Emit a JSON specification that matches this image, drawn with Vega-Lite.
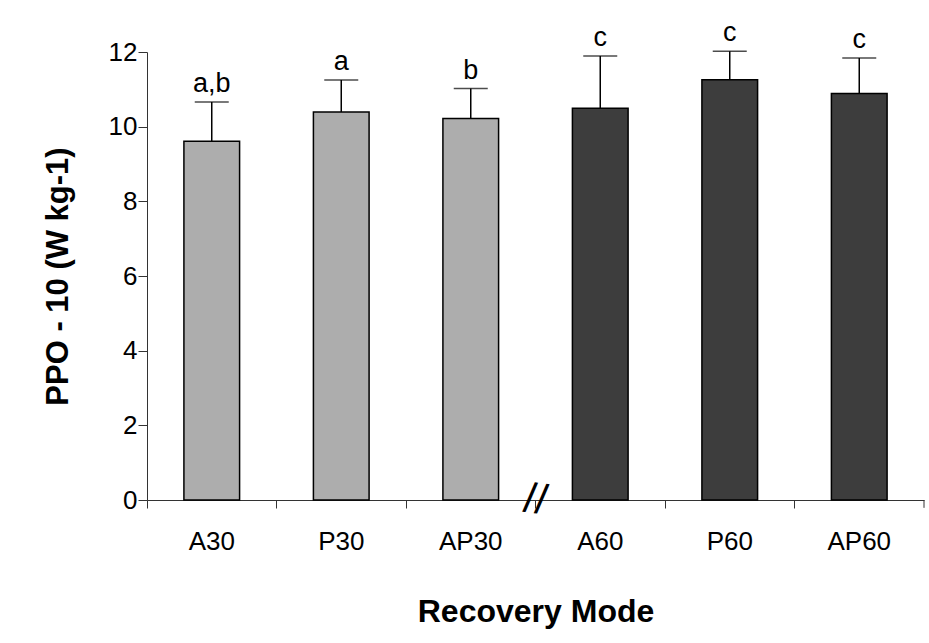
{
  "$schema": "https://vega.github.io/schema/vega-lite/v6.json",
  "autosize": "none",
  "width": 777,
  "height": 448,
  "padding": {"left": 147, "top": 52, "right": 5, "bottom": 143},
  "background": "white",
  "config": {
    "view": {"stroke": null},
    "font": "Liberation Sans",
    "axis": {"labelFont": "Liberation Sans", "titleFont": "Liberation Sans", "labelColor": "#000", "titleColor": "#000", "domainColor": "#333", "tickColor": "#333", "grid": false}
  },
  "datasets": {
    "bars": [
      {"mode": "A30", "duration": "30", "mean": 9.61, "upper": 10.66, "sig": "a,b"},
      {"mode": "P30", "duration": "30", "mean": 10.39, "upper": 11.25, "sig": "a"},
      {"mode": "AP30", "duration": "30", "mean": 10.22, "upper": 11.02, "sig": "b"},
      {"mode": "A60", "duration": "60", "mean": 10.49, "upper": 11.89, "sig": "c"},
      {"mode": "P60", "duration": "60", "mean": 11.26, "upper": 12.02, "sig": "c"},
      {"mode": "AP60", "duration": "60", "mean": 10.89, "upper": 11.84, "sig": "c"}
    ]
  },
  "data": {"name": "bars"},
  "layer": [
    {
      "mark": {"type": "bar", "width": {"band": 0.43}, "stroke": "#000", "strokeWidth": 1.5},
      "encoding": {
        "x": {
          "field": "mode", "type": "nominal",
          "scale": {"domain": ["A30", "P30", "AP30", "A60", "P60", "AP60"], "paddingInner": 0, "paddingOuter": 0},
          "axis": {"title": "Recovery Mode", "labelAngle": 0, "labelFontSize": 26, "titleFontSize": 32, "titleFontWeight": "bold", "bandPosition": 0, "tickSize": 8, "labelPadding": 20, "titlePadding": 42, "domainWidth": 1, "tickWidth": 1}
        },
        "y": {
          "field": "mean", "type": "quantitative",
          "scale": {"domain": [0, 12], "nice": false},
          "axis": {"title": "PPO - 10 (W kg-1)", "values": [0, 2, 4, 6, 8, 10, 12], "labelFontSize": 26, "titleFontSize": 31, "titleFontWeight": "bold", "tickSize": 9, "labelPadding": 1, "titlePadding": 34, "domainWidth": 1, "tickWidth": 1}
        },
        "color": {
          "field": "duration", "type": "nominal",
          "scale": {"domain": ["30", "60"], "range": ["#adadad", "#3d3d3d"]},
          "legend": null
        }
      }
    },
    {
      "mark": {"type": "rule", "color": "#000", "strokeWidth": 1.5},
      "encoding": {
        "x": {"field": "mode", "type": "nominal"},
        "y": {"field": "mean", "type": "quantitative"},
        "y2": {"field": "upper"}
      }
    },
    {
      "mark": {"type": "tick", "color": "#000", "size": 34, "thickness": 1.5},
      "encoding": {
        "x": {"field": "mode", "type": "nominal"},
        "y": {"field": "upper", "type": "quantitative"}
      }
    },
    {
      "mark": {"type": "text", "fontSize": 27, "baseline": "alphabetic", "dy": -10, "color": "#000"},
      "encoding": {
        "x": {"field": "mode", "type": "nominal"},
        "y": {"field": "upper", "type": "quantitative"},
        "text": {"field": "sig"}
      }
    },
    {
      "data": {"values": [{"mode": "AP60"}]},
      "mark": {"type": "rule", "color": "#333", "strokeWidth": 1},
      "encoding": {
        "x": {"field": "mode", "type": "nominal", "bandPosition": 1},
        "y": {"datum": 0},
        "y2": {"datum": -0.21}
      }
    },
    {
      "data": {"values": [{"mode": "A60", "sym": "//"}]},
      "mark": {"type": "text", "fontSize": 42, "fontWeight": "normal", "angle": 8, "baseline": "middle", "align": "center", "color": "#000"},
      "encoding": {
        "x": {"field": "mode", "type": "nominal", "bandPosition": 0},
        "y": {"datum": 0},
        "text": {"field": "sym"}
      }
    }
  ]
}
